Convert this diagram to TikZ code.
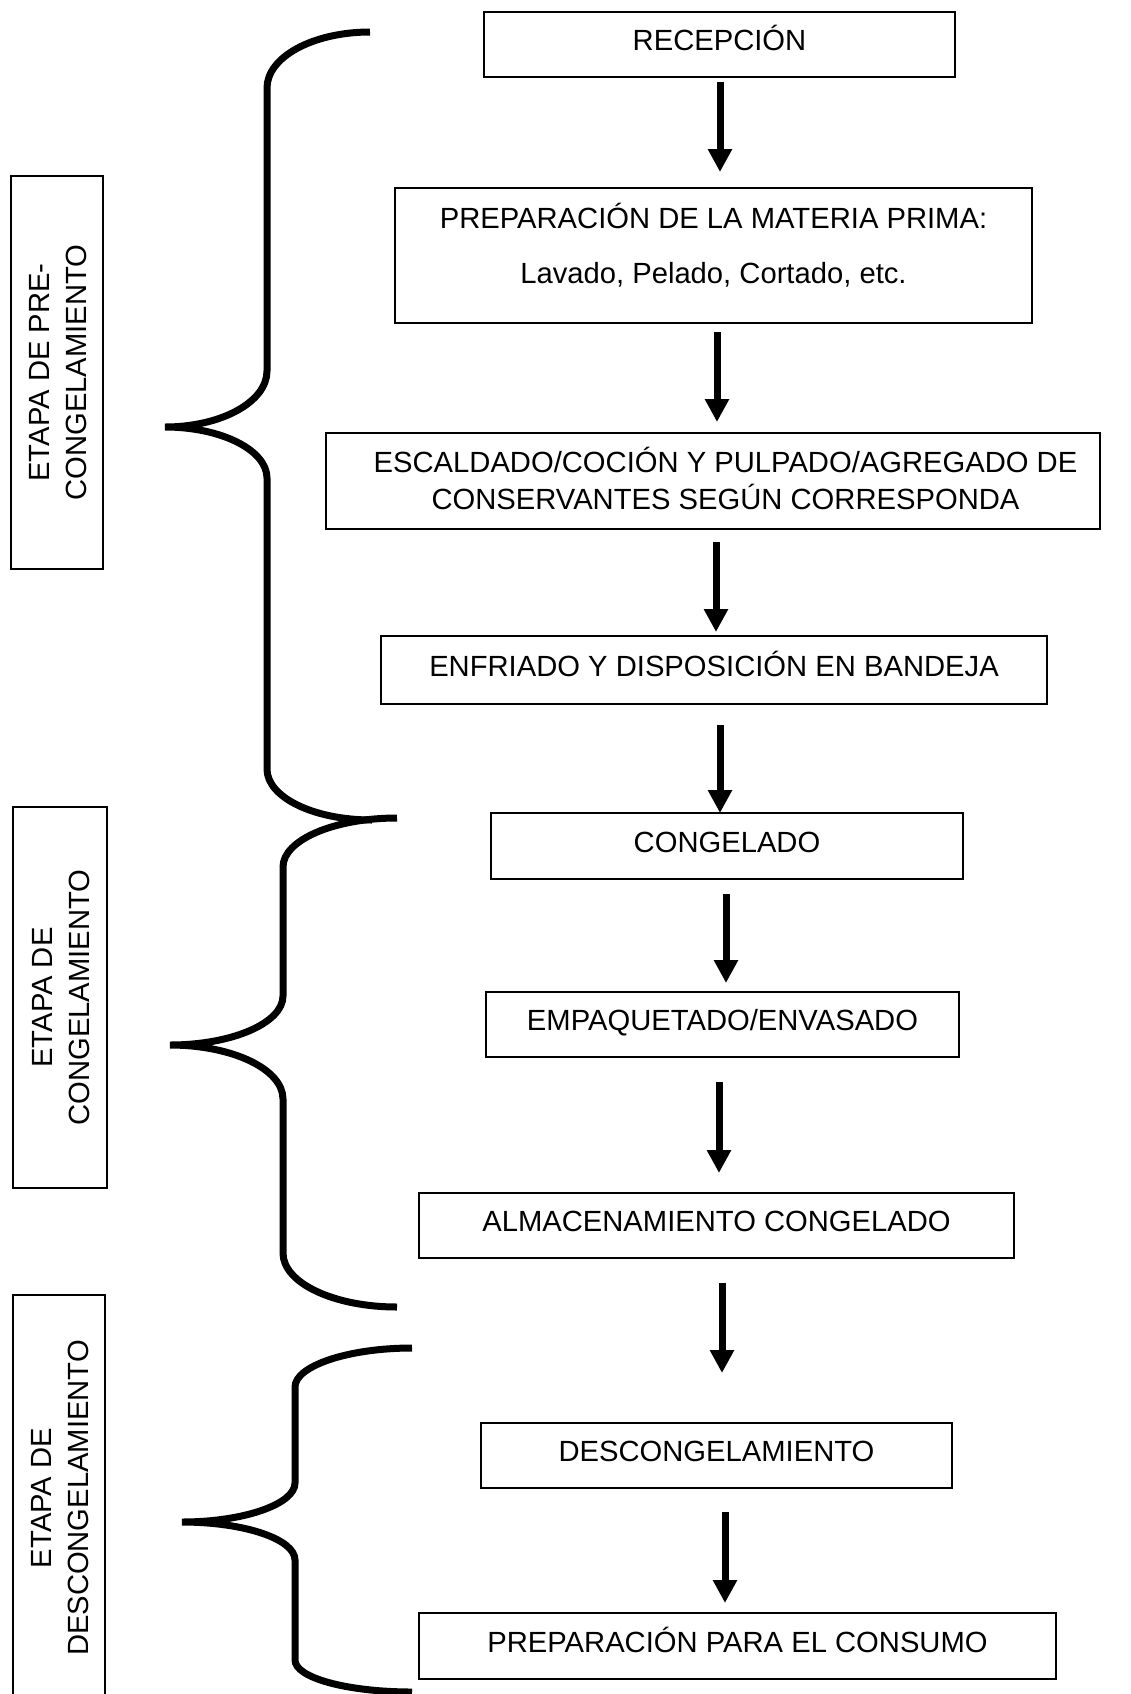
\documentclass[tikz,border=0pt]{standalone}
\usepackage{fontspec}
\setmainfont{Liberation Sans}
\usetikzlibrary{arrows.meta}
\newcommand\ftx{\fontsize{14.6pt}{18.5pt}\selectfont}
\begin{document}
\begin{tikzpicture}[x=0.5pt, y=-0.5pt,
  stepbox/.style={draw, line width=1pt, inner sep=0pt, outer sep=0pt, font=\ftx, text height=10.4pt, text depth=4pt},
  twoline/.style={text height=5pt},
  sidebox/.style={draw, line width=1pt, rotate=90, inner sep=0pt, outer sep=0pt, font=\ftx, text height=5pt, text depth=13pt},
  arr/.style={line width=3.5pt, -{Triangle[width=11.5pt,length=11.5pt]}},
  bracestroke/.style={line width=3.5pt}]
\path[use as bounding box, fill=white] (0,0) rectangle (1131,1694);
\clip (0,0) rectangle (1131,1694);

% process boxes
\node[stepbox, minimum width=235.5pt, minimum height=32.5pt] (recep) at (719.5,44.5) {RECEPCIÓN};
\node[stepbox, twoline, text depth=32pt, minimum width=318.5pt, minimum height=67.5pt] (prep) at (713.5,255.5)
  {\begin{tabular}[t]{@{}c@{}}PREPARACIÓN DE LA MATERIA PRIMA:\\[9pt]Lavado, Pelado, Cortado, etc.\end{tabular}};
\node[stepbox, twoline, text depth=13.6pt, minimum width=387pt, minimum height=48pt] (esc) at (713,481)
  {\begin{tabular}[t]{@{\hspace{12.5pt}}c@{}}ESCALDADO/COCIÓN Y PULPADO/AGREGADO DE\\CONSERVANTES SEGÚN CORRESPONDA\end{tabular}};
\node[stepbox, minimum width=333pt, minimum height=34pt] (enf) at (714,670) {ENFRIADO Y DISPOSICIÓN EN BANDEJA};
\node[stepbox, minimum width=236pt, minimum height=33pt] (cong) at (727,846) {CONGELADO};
\node[stepbox, minimum width=236.5pt, minimum height=32.5pt] (emp) at (722.5,1024.5) {EMPAQUETADO/ENVASADO};
\node[stepbox, minimum width=297.5pt, minimum height=32.5pt] (alm) at (716.5,1225.5) {ALMACENAMIENTO CONGELADO};
\node[stepbox, minimum width=235.5pt, minimum height=32.5pt] (desc) at (716.5,1455.5) {DESCONGELAMIENTO};
\node[stepbox, minimum width=318.5pt, minimum height=33pt] (cons) at (737.5,1646) {PREPARACIÓN PARA EL CONSUMO};

% stage boxes
\node[sidebox, minimum width=196.5pt, minimum height=46pt] (stage1) at (57,372.5)
  {\begin{tabular}[t]{@{}c@{}}ETAPA DE PRE-\\CONGELAMIENTO\end{tabular}};
\node[sidebox, minimum width=190.5pt, minimum height=47pt] (stage2) at (60,997.5)
  {\begin{tabular}[t]{@{}c@{}}ETAPA DE\\CONGELAMIENTO\end{tabular}};
\node[sidebox, minimum width=203pt, minimum height=46pt] (stage3) at (59,1498)
  {\begin{tabular}[t]{@{}c@{}}ETAPA DE\\DESCONGELAMIENTO\end{tabular}};

% arrows
\draw[arr] ([shift={(0.5,5)}]recep.south) -- ([shift={(6.5,-16)}]prep.north);
\draw[arr] ([shift={(3.5,9)}]prep.south) -- ([shift={(4,-11)}]esc.north);
\draw[arr] ([shift={(3,13)}]esc.south) -- ([shift={(2,-4)}]enf.north);
\draw[arr] ([shift={(6,21)}]enf.south) -- ([shift={(-7,0)}]cong.north);
\draw[arr] ([shift={(-1,15)}]cong.south) -- ([shift={(3.5,-9)}]emp.north);
\draw[arr] ([shift={(-3.5,25)}]emp.south) -- ([shift={(2.5,-20)}]alm.north);
\draw[arr] ([shift={(5.5,25)}]alm.south) -- ([shift={(5.5,-50)}]desc.north);
\draw[arr] ([shift={(8.5,24)}]desc.south) -- ([shift={(-12.5,-10)}]cons.north);

% braces
\draw[bracestroke] (370,32) .. controls (313,32) and (267,57) .. (267,88) -- (267,371)
  .. controls (267,402) and (221,427) .. (165,427)
  .. controls (221,427) and (267,450) .. (267,478) -- (267,769)
  .. controls (267,797) and (313,820) .. (372,820);
\draw[bracestroke] (397,818) .. controls (334,818) and (283,840) .. (283,867) -- (283,996)
  .. controls (283,1023) and (232,1045) .. (170,1045)
  .. controls (232,1045) and (283,1069) .. (283,1099) -- (283,1253)
  .. controls (283,1283) and (334,1307) .. (397,1307);
\draw[bracestroke] (412,1348) .. controls (348,1348) and (295,1366) .. (295,1387) -- (295,1483)
  .. controls (295,1504) and (244,1522) .. (182,1522)
  .. controls (244,1522) and (295,1539) .. (295,1560) -- (295,1660)
  .. controls (295,1678) and (348,1692) .. (412,1692);
\end{tikzpicture}
\end{document}
